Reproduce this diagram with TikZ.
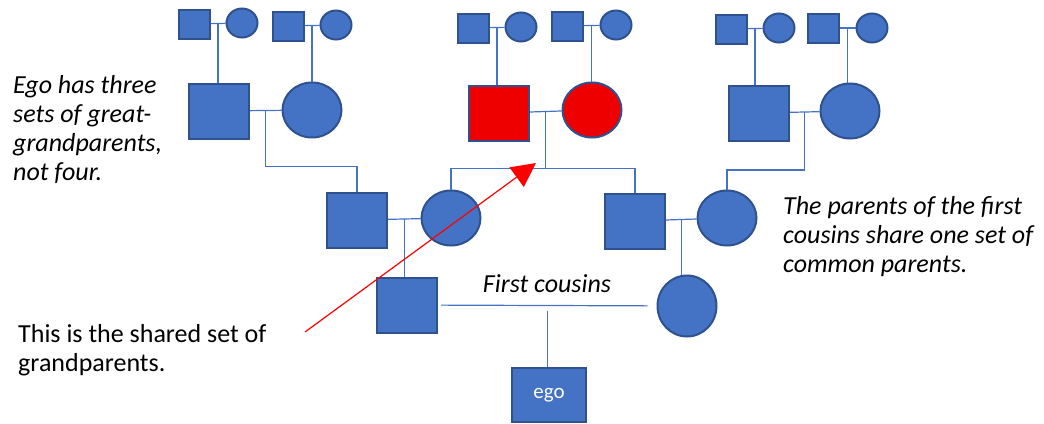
\documentclass[tikz,border=0pt]{standalone}
\usepackage{fontspec}
\setmainfont{Carlito}
\usepackage{tikz}
\usetikzlibrary{positioning}
\usetikzlibrary{calc}
\usetikzlibrary{shapes.geometric}
\usetikzlibrary{arrows.meta}
\definecolor{kinblue}{RGB}{68,114,196}
\definecolor{kinedge}{RGB}{47,82,143}
\definecolor{kinred}{RGB}{238,0,0}
\tikzset{
    pedigree/.style={
            x=1pt,y=-1pt,
            male/.style={rectangle,draw=kinedge,fill=kinblue,line width=2pt,inner sep=0pt},
            female/.style={ellipse,draw=kinedge,fill=kinblue,line width=2pt,inner sep=0pt},
            small/.style={minimum width=31pt,minimum height=29pt},
            big/.style={minimum width=60pt,minimum height=55pt},
            shared/.style={fill=kinred},
            link/.style={draw=kinblue,line width=1.2pt},
            pointer/.style={draw=red,line width=1.2pt,-{Triangle[length=24pt,width=24pt]}},
            note/.style={align=left,inner sep=0pt,font=\fontsize{26}{29}\selectfont}
        }
    }
\newcommand{\kinnote}{\fontsize{26}{29}\selectfont}

\begin{document}
\begin{tikzpicture}[pedigree]
    \useasboundingbox (0,0) rectangle (1044,423);
    \node (ggA1) [male,small] at (194,24) {};
    \node (ggA2) [female,small] at (242,23) {};
    \node (ggB1) [male,small] at (288,26) {};
    \node (ggB2) [female,small] at (336,25) {};
    \node (ggE1) [male,small] at (473,28) {};
    \node (ggE2) [female,small] at (521,27) {};
    \node (ggF1) [male,small] at (567,26) {};
    \node (ggF2) [female,small] at (616,25) {};
    \node (ggI1) [male,small] at (731,29) {};
    \node (ggI2) [female,small] at (779,28) {};
    \node (ggJ1) [male,small] at (823,28) {};
    \node (ggJ2) [female,small] at (872,28) {};
    \node (gpC1) [male,big] at (219,111) {};
    \node (gpC2) [female,big,minimum width=59pt] at (312,110) {};
    \node (gpG1) [male,big,shared] at (499,113) {};
    \node (gpG2) [female,big,shared,minimum width=59pt] at (592,110) {};
    \node (gpK1) [male,big] at (759,113) {};
    \node (gpK2) [female,big,minimum width=59pt] at (850,111) {};
    \node (pD1) [male,big] at (357,220) {};
    \node (pD2) [female,big,minimum width=59pt] at (451,218) {};
    \node (pH1) [male,big] at (635,221) {};
    \node (pL2) [female,big,minimum width=59pt] at (727,218) {};
    \node (cM1) [male,big] at (407,305) {};
    \node (cN2) [female,big,minimum width=59pt,minimum height=61pt] at (687,306) {};
    \node (ego) [male,minimum width=74pt,minimum height=54pt,text=white,font=\fontsize{21}{24}\selectfont] at (549,395) {ego};
    \draw [link] (ggA1) -- (ggA2) coordinate[midway] (mA);
    \draw [link] (ggB1) -- (ggB2) coordinate[midway] (mB);
    \draw [link] (ggE1) -- (ggE2) coordinate[midway] (mE);
    \draw [link] (ggF1) -- (ggF2) coordinate[midway] (mF);
    \draw [link] (ggI1) -- (ggI2) coordinate[midway] (mI);
    \draw [link] (ggJ1) -- (ggJ2) coordinate[midway] (mJ);
    \draw [link] (mA) -- (mA |- gpC1.north);
    \draw [link] (mB) -- (mB |- gpC2.north);
    \draw [link] (mE) -- (mE |- gpG1.north);
    \draw [link] (mF) -- (mF |- gpG2.north);
    \draw [link] (mI) -- (mI |- gpK1.north);
    \draw [link] (mJ) -- (mJ |- gpK2.north);
    \draw [link] (gpC1) -- (gpC2) coordinate[midway] (mC);
    \draw [link] (gpG1) -- (gpG2) coordinate[midway] (mG);
    \draw [link] (gpK1) -- (gpK2) coordinate[midway] (mK);
    \draw [link] (mC) -- ++(0,56) -| (pD1.north);
    \coordinate (barG) at ($(mG)+(0,57)$);
    \draw [link] (mG) -- (barG);
    \draw [link] (pD2.north) |- (barG) -| (pH1.north);
    \draw [link] (mK) -- ++(0,58) -| (pL2.north);
    \draw [link] (pD1) -- (pD2) coordinate[midway] (mD);
    \draw [link] (pH1) -- (pL2) coordinate[midway] (mH);
    \draw [link] (mD) -- (mD |- cM1.north);
    \draw [link] (mH) -- (mH |- cN2.north);
    \draw [link,shorten <=3pt,shorten >=9pt] (cM1) -- (cN2) coordinate[midway] (mM);
    \draw [link,shorten <=5pt] (mM) -- (mM |- ego.north);
    \node (cousins) [anchor=base,font=\kinnote\itshape] at (547,292) {First cousins};
    \node (noteEgo) [note,anchor=north west,font=\kinnote\itshape] at (13,75) {Ego has three\\sets of great-\\grandparents,\\not four.};
    \node (noteParents) [note,anchor=north west,font=\kinnote\itshape] at (783,196) {The parents of the first\\cousins share one set of\\common parents.};
    \node (noteShared) [note,anchor=north west] at (18,324) {This is the shared set of\\grandparents.};
    \coordinate (sharedTail) at (305,332);
    \coordinate (sharedTip) at (536,163);
    \draw [pointer] (sharedTail) -- (sharedTip);
\end{tikzpicture}
\end{document}
